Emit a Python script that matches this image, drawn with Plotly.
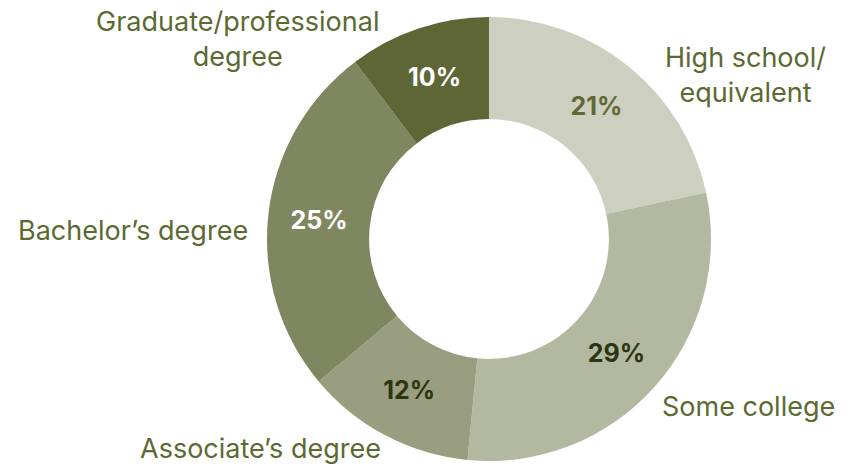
import plotly.graph_objects as go

categories = ["High school/<br>equivalent", "Some college", "Associate’s degree",
              "Bachelor’s degree", "Graduate/professional<br>degree"]
values = [21, 29, 12, 25, 10]
pct_labels = ["21%", "29%", "12%", "25%", "10%"]
colors = ["#cdcfc0", "#b3b8a0", "#9a9e80", "#7f8760", "#5e6636"]
text_colors = ["#5e6a33", "#2c3510", "#2c3510", "#ffffff", "#ffffff"]

LABEL_COLOR = "#5b6a30"
FONT = "Inter"

fig = go.Figure(go.Pie(
    labels=categories,
    values=values,
    text=pct_labels,
    textinfo="text",
    texttemplate="%{text}",
    textposition="inside",
    insidetextorientation="horizontal",
    insidetextfont=dict(family=FONT, size=25, color=text_colors, weight="bold"),
    marker=dict(colors=colors, line=dict(width=0)),
    hole=0.54,
    sort=False,
    direction="clockwise",
    rotation=0,
    showlegend=False,
    domain=dict(x=[(489 - 222) / 854, (489 + 222) / 854],
                y=[(225 - 222) / 464, (225 + 222) / 464]),
))

# outer labels (placed in pixel-derived paper coordinates)
label_pos = [(745, 75), (748, 406), (260, 448), (133, 231), (238, 39)]
for lab, (px, py) in zip(categories, label_pos):
    fig.add_annotation(
        text=lab, x=px / 854, y=1 - py / 464, xref="paper", yref="paper",
        showarrow=False, xanchor="center", yanchor="middle",
        font=dict(family=FONT, size=27, color=LABEL_COLOR),
    )

fig.update_layout(
    width=854, height=464,
    margin=dict(l=0, r=0, t=0, b=0),
    paper_bgcolor="white", plot_bgcolor="white",
    uniformtext=dict(minsize=25, mode="show"),
)

fig.write_html("out.html")
